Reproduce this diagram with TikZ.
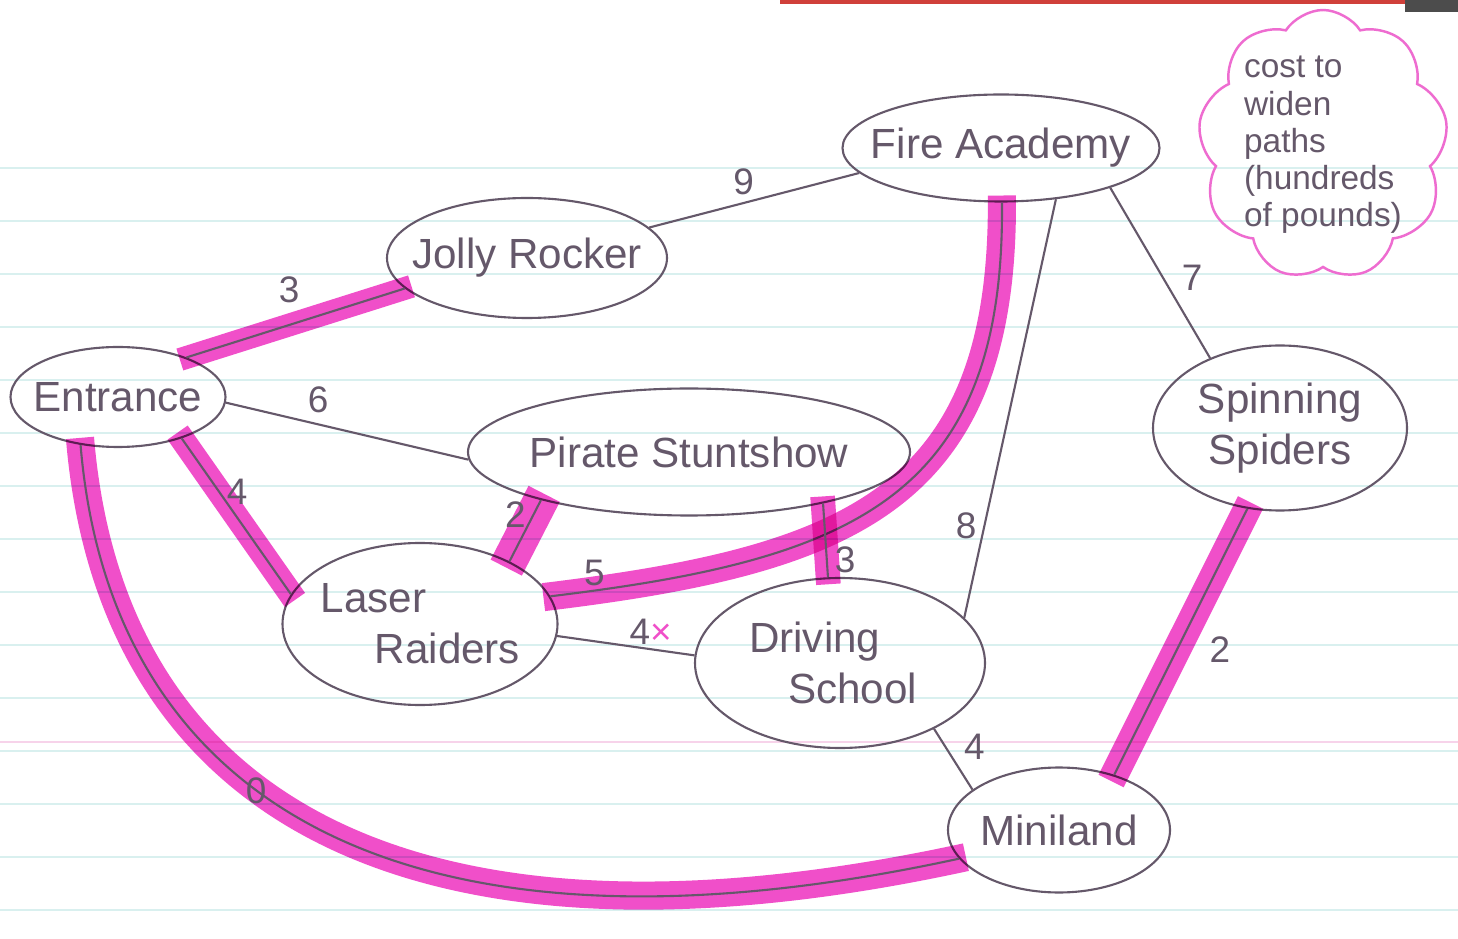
\documentclass[tikz,border=0pt]{standalone}
\usepackage{fontspec}
\setmainfont{Liberation Sans}
\usepackage{xcolor}
\usepackage{tikz}
\usetikzlibrary{shapes.geometric, shapes.symbols, positioning}
\definecolor{penink}{HTML}{65586A}
\definecolor{hlpink}{HTML}{F04FC9}
\definecolor{cloudpink}{HTML}{EE6CD0}
\definecolor{ruleblue}{HTML}{D9F0EF}
\definecolor{rulepink}{HTML}{F7D3EA}
\definecolor{edgered}{HTML}{D0403A}
\tikzset{
  hl width/.initial=6.5pt,
  hl/.style={preaction={draw=hlpink, blend mode=multiply,
                        line width=\pgfkeysvalueof{/tikz/hl width},
                        shorten <=-2pt, shorten >=-2pt}}
}

\begin{document}
\begin{tikzpicture}[
  ride/.style={ellipse, draw=penink, line width=0.6pt, inner sep=0pt},
  ridename/.style={align=center, text=penink, inner sep=0pt,
                   font=\fontsize{12}{14.5}\selectfont},
  walk/.style={draw=penink, line width=0.6pt},
  num/.style={text=penink, inner sep=1pt, font=\fontsize{10.5}{12}\selectfont},
  note/.style={cloud, cloud puffs=9, cloud puff arc=115, cloud ignores aspect,
               draw=cloudpink, line width=0.7pt, inner sep=0pt},
  notetext/.style={align=left, text=penink, inner sep=0pt,
                   font=\fontsize{9.5}{10.6}\selectfont},
  ruling/.style={ruleblue, line width=0.6pt}
]

\useasboundingbox (0,0) rectangle (14.58,-9.39);
\fill[white] (0,0) rectangle (14.58,-9.39);

% paper
\foreach \y in {1.68,2.21,...,9.20}
  \draw[ruling] (0,-\y) -- (14.58,-\y);
\draw[rulepink, line width=0.6pt] (0,-7.42) -- (14.58,-7.42);
\fill[edgered] (7.8,0) rectangle (14.05,-0.04);
\fill[black!70] (14.05,0) rectangle (14.58,-0.12);

% rides
\node[ride, minimum width=3.17cm, minimum height=1.07cm,
      label={[ridename]center:Fire Academy}] (fa) at (10.01,-1.48) {};
\node[ride, minimum width=2.80cm, minimum height=1.20cm,
      label={[ridename]center:Jolly Rocker}] (jr) at (5.27,-2.58) {};
\node[ride, minimum width=2.15cm, minimum height=1.00cm,
      label={[ridename]center:Entrance}] (ent) at (1.18,-3.97) {};
\node[ride, minimum width=4.42cm, minimum height=1.27cm,
      label={[ridename]center:Pirate Stuntshow}] (ps) at (6.89,-4.52) {};
\node[ride, minimum width=2.75cm, minimum height=1.62cm,
      label={[ridename]center:{Laser\hspace*{2.2em}\\\hspace*{1.3em}Raiders}}] (lr) at (4.20,-6.24) {};
\node[ride, minimum width=2.90cm, minimum height=1.70cm,
      label={[ridename]center:{Driving\hspace*{1.2em}\\\hspace*{0.6em}School}}] (ds) at (8.40,-6.63) {};
\node[ride, minimum width=2.54cm, minimum height=1.65cm,
      label={[ridename]center:{Spinning\\Spiders}}] (ss) at (12.80,-4.28) {};
\node[ride, minimum width=2.22cm, minimum height=1.25cm,
      label={[ridename]center:Miniland}] (mini) at (10.59,-8.30) {};

\node[note, minimum width=2.50cm, minimum height=2.70cm,
      label={[notetext]center:{cost to\\widen\\paths\\(hundreds\\of pounds)}}]
  (key) at (13.23,-1.45) {};

% paths
\draw[walk] (jr.14) -- node[num, pos=.45, above=1pt] {9} (fa.190);
\draw[walk, hl] (ent.30) -- node[num, pos=.47, above=5pt] {3} (jr.194);
\draw[walk] (ent.-3) -- node[num, pos=.38, above=2pt] {6} (ps.182);
\draw[walk, hl width=7pt, hl] (ent.-33) -- node[num, pos=.34, right=1pt] {4} (lr.167);
\draw[walk, hl width=8pt, hl] (ent.-128) .. controls (1.10,-8.00) and (4.00,-9.80) ..
  node[num, pos=.42] {0} (mini.196);
\draw[walk, hl width=10pt, hl] (ps.198) -- node[num, pos=.23, left=1pt] {2} (lr.35);
\draw[walk, hl width=8pt, hl] (lr.12) .. controls (8.50,-5.60) and (10.05,-5.00) ..
  node[num, pos=.05, above=0pt] {5} (fa.-89);
\draw[walk, hl width=7pt, hl] (ps.-21) -- node[num, pos=.76, right=1pt] {3} (ds.98);
\draw[walk] (lr.-5) -- node[num, pos=.68, above=0pt]
  {4\textcolor{hlpink}{×}} (ds.177);
\draw[walk] (fa.-43) -- node[num, pos=.78, left=1pt] {8} (ds.20);
\draw[walk] (fa.-20) -- node[num, pos=.53, right=4pt] {7} (ss.135);
\draw[walk, hl width=8pt, hl] (ss.-112) -- node[num, pos=.53, right=8pt] {2} (mini.45);
\draw[walk] (ds.-35) -- node[num, pos=.3, right=4pt] {4} (mini.155);

\end{tikzpicture}
\end{document}
